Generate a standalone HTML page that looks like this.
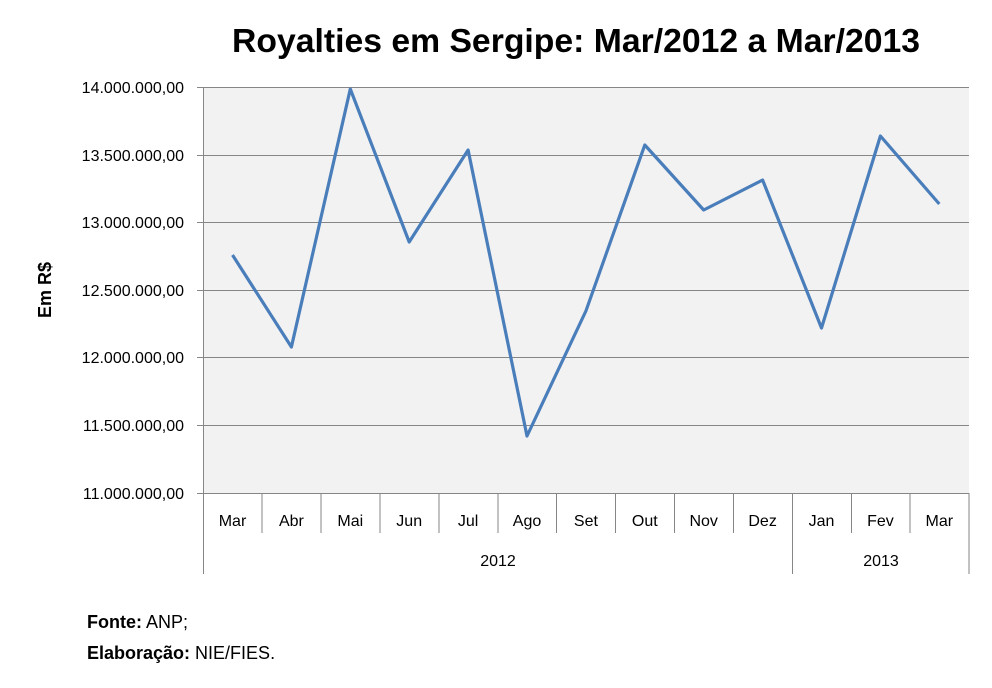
<!DOCTYPE html>
<html><head><meta charset="utf-8"><style>
body{margin:0;background:#fff}
svg text{font-family:"Liberation Sans",sans-serif}
</style></head><body>
<svg width="992" height="683" xmlns="http://www.w3.org/2000/svg">
<rect x="203" y="87" width="766" height="406" fill="#f2f2f2"/>
<g stroke="#868686" stroke-width="1">
<line x1="197" y1="87.5" x2="969" y2="87.5"/>
<line x1="197" y1="155.5" x2="969" y2="155.5"/>
<line x1="197" y1="222.5" x2="969" y2="222.5"/>
<line x1="197" y1="290.5" x2="969" y2="290.5"/>
<line x1="197" y1="357.5" x2="969" y2="357.5"/>
<line x1="197" y1="425.5" x2="969" y2="425.5"/>
<line x1="197" y1="493.5" x2="969" y2="493.5"/>
<line x1="203.5" y1="87" x2="203.5" y2="574"/>
<line x1="262" y1="493" x2="262" y2="533"/>
<line x1="321" y1="493" x2="321" y2="533"/>
<line x1="380" y1="493" x2="380" y2="533"/>
<line x1="439" y1="493" x2="439" y2="533"/>
<line x1="498" y1="493" x2="498" y2="533"/>
<line x1="556.5" y1="493" x2="556.5" y2="533"/>
<line x1="615.5" y1="493" x2="615.5" y2="533"/>
<line x1="674.5" y1="493" x2="674.5" y2="533"/>
<line x1="733.5" y1="493" x2="733.5" y2="533"/>
<line x1="792.5" y1="493" x2="792.5" y2="574"/>
<line x1="851.5" y1="493" x2="851.5" y2="533"/>
<line x1="910" y1="493" x2="910" y2="533"/>
<line x1="969" y1="493" x2="969" y2="574"/>
</g>
<g font-size="16" text-anchor="end" fill="#000">
<text x="184" y="93">14.000.000,00</text>
<text x="184" y="161">13.500.000,00</text>
<text x="184" y="228">13.000.000,00</text>
<text x="184" y="296">12.500.000,00</text>
<text x="184" y="363">12.000.000,00</text>
<text x="184" y="431">11.500.000,00</text>
<text x="184" y="499">11.000.000,00</text>
</g>
<g font-size="16" text-anchor="middle">
<text x="232.5" y="526">Mar</text><text x="291.4" y="526">Abr</text><text x="350.3" y="526">Mai</text>
<text x="409.2" y="526">Jun</text><text x="468.1" y="526">Jul</text><text x="527" y="526">Ago</text>
<text x="585.9" y="526">Set</text><text x="644.8" y="526">Out</text><text x="703.7" y="526">Nov</text>
<text x="762.6" y="526">Dez</text><text x="821.5" y="526">Jan</text><text x="880.4" y="526">Fev</text>
<text x="939.3" y="526">Mar</text>
<text x="498" y="566">2012</text><text x="881" y="566">2013</text>
</g>
<polyline fill="none" stroke="#4a7ebb" stroke-width="3.2" stroke-linejoin="round" points="232.5,255 291.4,347 350.3,89 409.2,242 468.1,150 527,436 585.9,311 644.8,145 703.7,210 762.6,180 821.5,328 880.4,136 939.3,204"/>
<text x="232" y="52" font-size="33" font-weight="bold" textLength="688" lengthAdjust="spacingAndGlyphs">Royalties em Sergipe: Mar/2012 a Mar/2013</text>
<text transform="translate(51,290) rotate(-90)" font-size="18" font-weight="bold" text-anchor="middle">Em R$</text>
<text x="87" y="628" font-size="18"><tspan font-weight="bold">Fonte:</tspan> ANP;</text>
<text x="87" y="659" font-size="18"><tspan font-weight="bold">Elaboração:</tspan>  NIE/FIES.</text>
</svg>
</body></html>
